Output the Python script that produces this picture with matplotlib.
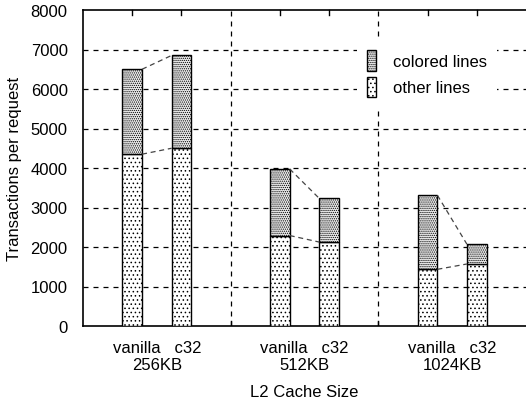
import matplotlib
matplotlib.use("Agg")
import matplotlib.pyplot as plt
from matplotlib.patches import Patch
import numpy as np

plt.rcParams['font.family'] = ['Liberation Sans', 'DejaVu Sans']
plt.rcParams['hatch.linewidth'] = 0.6

# values
cacheSizes = ['256KB', '512KB', '1024KB']
configs = ['vanilla', 'c32']
otherVanilla = [4350, 2290, 1435]
colorVanilla = [6500, 3975, 3310]   # total height
otherC32 = [4500, 2125, 1570]
colorC32 = [6850, 3230, 2070]      # total height

fig = plt.figure(figsize=(5.26, 4.06), dpi=100)
ax = fig.add_axes([83/526, (406-327)/406, (526-83)/526, (327-11)/406])

groupStep = 3
width = 0.4
xv = np.arange(len(cacheSizes)) * groupStep
xc = xv + 1

# grid first
for v in range(1000, 8000, 1000):
    ax.axhline(v, color='black', lw=0.9, ls=(0, (4, 4)), zorder=0)
for d in range(1, len(cacheSizes)):
    ax.axvline(d * groupStep - 1, color='black', lw=0.9, ls=(0, (4, 4)), zorder=0)
    ax.plot([d * groupStep - 1] * 2, [0, 120], color='black', lw=1, zorder=1)

otherV = np.array(otherVanilla)
otherC = np.array(otherC32)
topV = np.array(colorVanilla) - otherV
topC = np.array(colorC32) - otherC

otherHatch = '....'
colorHatch = '........'
colorFace = '#ececec'

kw = dict(width=width, edgecolor='black', linewidth=1.0, zorder=3)
ax.bar(xv, otherV, color='white', hatch=otherHatch, **kw)
ax.bar(xc, otherC, color='white', hatch=otherHatch, **kw)
ax.bar(xv, topV, bottom=otherV, color=colorFace, hatch=colorHatch, **kw)
ax.bar(xc, topC, bottom=otherC, color=colorFace, hatch=colorHatch, **kw)

# connecting dashed lines between the two bars of a group
for i in range(len(cacheSizes)):
    ax.plot([xv[i] + width/2, xc[i] - width/2], [colorVanilla[i], colorC32[i]],
            color='#444444', lw=0.9, ls=(0, (4, 3)), zorder=4)
    ax.plot([xv[i] + width/2, xc[i] - width/2], [otherVanilla[i], otherC32[i]],
            color='#444444', lw=0.9, ls=(0, (4, 3)), zorder=4)

ax.set_xlim(-1, 8)
ax.set_ylim(0, 8000)
ax.set_yticks(range(0, 8001, 1000))
ax.tick_params(axis='y', direction='in', length=0, labelsize=12, pad=11)

groupCenters = (xv + xc) / 2
ax.set_xticks(groupCenters)
ax.set_xticklabels([configs[0] + '   ' + configs[1] + '\n' + s for s in cacheSizes],
                   fontsize=12, linespacing=1.15)
ax.tick_params(axis='x', length=0, pad=10)

# top ticks at bar centers
for x in np.concatenate([xv, xc]):
    ax.plot([x, x], [8000, 7880], color='black', lw=1, zorder=5, clip_on=False)

ax.set_ylabel('Transactions per request', fontsize=12, labelpad=6)
ax.set_xlabel('L2 Cache Size', fontsize=12, labelpad=9)

for s in ['left', 'bottom', 'top']:
    ax.spines[s].set_linewidth(1.2)
ax.spines['right'].set_visible(False)

handles = [Patch(facecolor=colorFace, edgecolor='black', hatch=colorHatch, label='colored lines'),
           Patch(facecolor='white', edgecolor='black', hatch=otherHatch, label='other lines')]
leg = ax.legend(handles=handles, loc='upper left', bbox_to_anchor=(0.6, 0.93), frameon=True,
                fontsize=12, handlelength=0.55, handleheight=1.5, handletextpad=1.0,
                labelspacing=0.35, borderpad=0.6, fancybox=False)
leg.get_frame().set_edgecolor('none')
leg.get_frame().set_facecolor('white')
leg.get_frame().set_alpha(1)
leg.set_zorder(6)

fig.savefig('out.png', dpi=100)
